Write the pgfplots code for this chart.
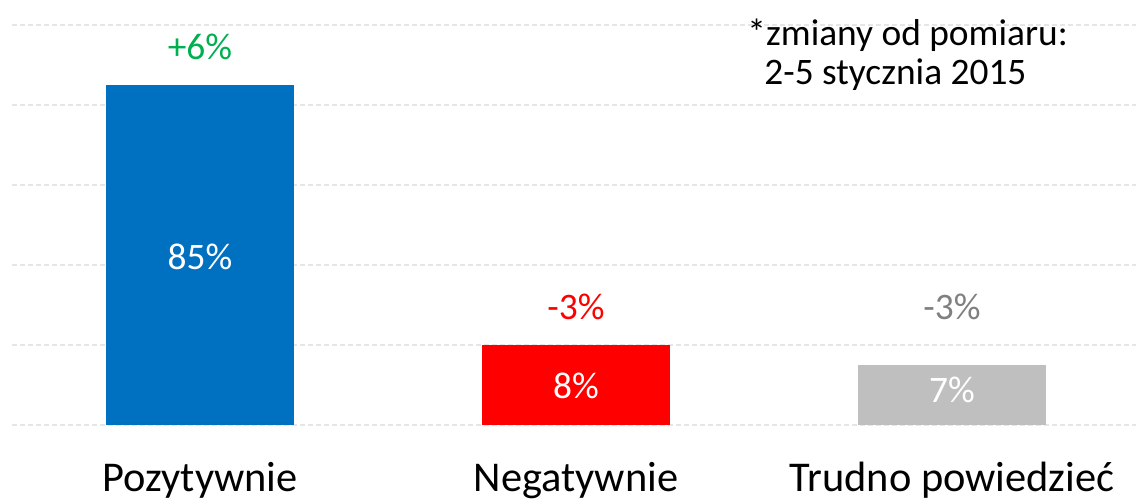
\documentclass[border=0pt]{standalone}
\usepackage{fontspec}
\setmainfont{Carlito}
\usepackage{pgfplots}
\pgfplotsset{compat=1.18}

\definecolor{cBlue}{HTML}{0070C0}
\definecolor{cRed}{HTML}{FF0000}
\definecolor{cGray}{HTML}{BFBFBF}
\definecolor{cGreen}{HTML}{00B050}
\definecolor{cDark}{HTML}{808080}
\definecolor{cGrid}{HTML}{E6E6E6}

\begin{document}
\begin{tikzpicture}
\begin{axis}[
    at={(0,0)}, anchor=south west,
    scale only axis,
    width=562.12pt, height=200pt,
    xmin=-0.5, xmax=2.49,
    ymin=0, ymax=100,
    axis line style={draw=none},
    major tick length=0pt,
    xtick={0,1,2},
    xticklabels={Pozytywnie,Negatywnie,Trudno powiedzieć},
    xticklabel style={anchor=base, yshift=-33.5pt, font=\fontsize{21.2pt}{25pt}\selectfont},
    ytick={0,20,40,60,80,100},
    yticklabels={},
    ymajorgrids,
    major grid style={cGrid, line width=0.75pt, dash pattern=on 2.5pt off 1.5pt},
    clip=false,
    every node near coord/.append style={anchor=base, font=\fontsize{18.7pt}{22pt}\selectfont},
]
% bars (heights as drawn)
\addplot[ybar, bar width=0.5, bar shift=0pt, fill=cBlue, draw=none] coordinates {(0,85)};
\addplot[ybar, bar width=0.5, bar shift=0pt, fill=cRed, draw=none] coordinates {(1,20)};
\addplot[ybar, bar width=0.5, bar shift=0pt, fill=cGray, draw=none] coordinates {(2,15)};

% values inside bars
\addplot[draw=none, mark=none, nodes near coords, point meta=explicit symbolic,
    nodes near coords style={text=white}]
    coordinates {(0,38.75)[85\%] (1,6.5)[8\%] (2,5.5)[7\%]};

% changes above bars
\addplot[draw=none, mark=none, nodes near coords, point meta=explicit symbolic,
    nodes near coords style={text=cGreen}]
    coordinates {(0,91.25)[+6\%]};
\addplot[draw=none, mark=none, nodes near coords, point meta=explicit symbolic,
    nodes near coords style={text=cRed}]
    coordinates {(1,26.25)[-3\%]};
\addplot[draw=none, mark=none, nodes near coords, point meta=explicit symbolic,
    nodes near coords style={text=cDark}]
    coordinates {(2,26.25)[-3\%]};

\node[anchor=base west, inner sep=0pt, font=\fontsize{18.7pt}{22pt}\selectfont]
    at (axis cs:1.455,94.75) {*zmiany od pomiaru:};
\node[anchor=base west, inner sep=0pt, font=\fontsize{18.7pt}{22pt}\selectfont]
    at (axis cs:1.5,85) {2-5 stycznia 2015};
\end{axis}
\pgfresetboundingbox
\path (-6pt,-38pt) rectangle (562pt,212.5pt);
\end{tikzpicture}
\end{document}
